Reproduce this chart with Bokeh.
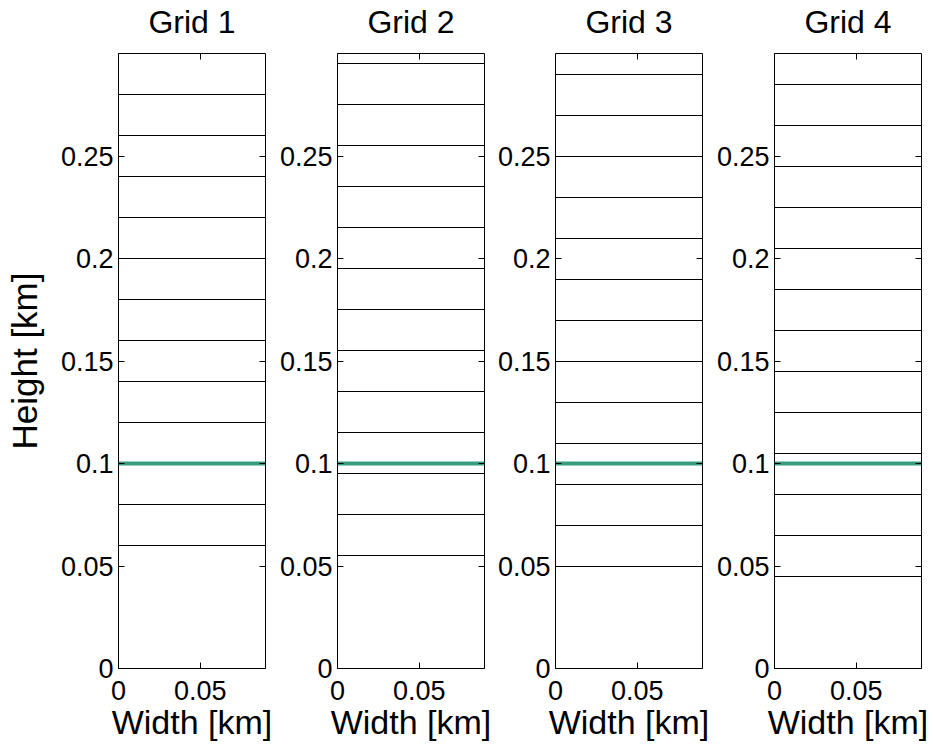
from bokeh.plotting import figure
from bokeh.layouts import row
from bokeh.models import Range1d, FixedTicker, LinearAxis, CustomJSTickFormatter
from bokeh.embed import file_html
from bokeh.resources import INLINE

titles = ["Grid 1", "Grid 2", "Grid 3", "Grid 4"]
grid1 = [0.06, 0.08, 0.10, 0.12, 0.14, 0.16, 0.18, 0.20, 0.22, 0.24, 0.26, 0.28]
grid2 = [0.055, 0.075, 0.095, 0.115, 0.135, 0.155, 0.175, 0.195, 0.215, 0.235, 0.255, 0.275, 0.295]
grid3 = [0.05, 0.07, 0.09, 0.11, 0.13, 0.15, 0.17, 0.19, 0.21, 0.23, 0.25, 0.27, 0.29]
grid4 = [0.045, 0.065, 0.085, 0.105, 0.125, 0.145, 0.165, 0.185, 0.205, 0.225, 0.245, 0.265, 0.285]
grids = [grid1, grid2, grid3, grid4]
interface_height = [0.1]
x_ticks = [0, 0.05]
y_ticks = [0, 0.05, 0.1, 0.15, 0.2, 0.25]
x_max = 0.09
y_max = 0.3

FONT = "Liberation Sans"
fmt_code = "return Number(tick.toFixed(4)).toString();"

left_borders = [118, 62, 61, 62]
right_borders = [10, 10, 10, 6]
figs = []
for i, (title, hs) in enumerate(zip(titles, grids)):
    p = figure(frame_width=147, frame_height=615, output_backend="svg",
               toolbar_location=None, tools="",
               x_range=Range1d(0, x_max), y_range=Range1d(0, y_max),
               min_border_left=left_borders[i], min_border_right=right_borders[i],
               min_border_top=50, min_border_bottom=66,
               background_fill_color="white", border_fill_color="white")
    p.xgrid.visible = False
    p.ygrid.visible = False
    p.outline_line_color = "black"
    p.outline_line_width = 1
    p.outline_line_alpha = 1

    p.hspan(y=hs, line_color="black", line_width=1)
    p.hspan(y=interface_height, line_color="#379d80", line_width=4)

    for ax in p.xaxis:
        ax.ticker = FixedTicker(ticks=x_ticks)
        ax.formatter = CustomJSTickFormatter(code=fmt_code)
        ax.axis_label = "Width [km]"
        ax.axis_label_text_font = FONT
        ax.axis_label_text_font_size = "34px"
        ax.axis_label_text_font_style = "normal"
        ax.axis_label_text_line_height = 0.8
        ax.axis_label_standoff = 0
        ax.major_label_text_font = FONT
        ax.major_label_text_font_size = "27px"
        ax.major_label_text_line_height = 0.9
        ax.major_label_standoff = 12
    for ax in p.yaxis:
        ax.ticker = FixedTicker(ticks=y_ticks)
        ax.formatter = CustomJSTickFormatter(code=fmt_code)
        if i == 0:
            ax.axis_label = "Height [km]"
            ax.axis_label_text_font = FONT
            ax.axis_label_text_font_size = "35px"
            ax.axis_label_text_font_style = "normal"
            ax.axis_label_standoff = 14
        ax.major_label_text_font = FONT
        ax.major_label_text_font_size = "27px"
        ax.major_label_standoff = 5
    for ax in list(p.xaxis) + list(p.yaxis):
        ax.axis_line_color = None
        ax.major_tick_in = 6
        ax.major_tick_out = 0
        ax.minor_tick_line_color = None
        ax.major_tick_line_color = "black"
        ax.major_label_text_color = "black"
        ax.axis_label_text_color = "black"

    top = LinearAxis(ticker=FixedTicker(ticks=x_ticks), axis_line_color=None,
                     major_tick_in=6, major_tick_out=0, minor_tick_line_color=None,
                     major_label_text_font_size="0px", major_label_standoff=0,
                     major_tick_line_color="black",
                     axis_label=title, axis_label_text_font=FONT,
                     axis_label_text_font_size="32px", axis_label_text_font_style="normal",
                     axis_label_text_color="black", axis_label_standoff=14,
                     axis_label_text_line_height=0.7)
    right = LinearAxis(ticker=FixedTicker(ticks=y_ticks), axis_line_color=None,
                       major_tick_in=6, major_tick_out=0, minor_tick_line_color=None,
                       major_label_text_font_size="0px", major_label_standoff=0,
                       major_tick_line_color="black")
    p.add_layout(top, "above")
    p.add_layout(right, "right")
    figs.append(p)

layout = row(*figs, spacing=0)
open("out.html", "w").write(file_html(layout, INLINE))
